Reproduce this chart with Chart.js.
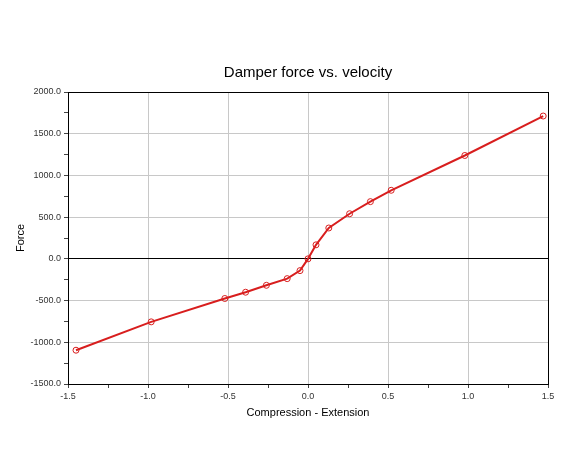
<!DOCTYPE html>
<html>
<head>
<meta charset="utf-8">
<script src="https://cdn.jsdelivr.net/npm/chart.js@4.4.0/dist/chart.umd.min.js"></script>
<style>
  html, body { margin: 0; padding: 0; background: #fff; }
  #wrap { width: 572px; height: 473px; }
</style>
</head>
<body>
<div id="wrap"><canvas id="damperChart" width="572" height="473"></canvas></div>
<script>
// Damper data
const velocity = [-1.45, -0.98, -0.52, -0.39, -0.26, -0.13, -0.05, 0.0, 0.05, 0.13, 0.26, 0.39, 0.52, 0.98, 1.47];
const force = [-1095, -755, -475, -400, -317, -237, -141, 0, 168, 370, 541, 686, 822, 1239, 1712];
const xRange = [-1.5, 1.5];
const yRange = [-1500, 2000];

const points = velocity.map((v, i) => ({ x: v, y: force[i] }));

// frame round the plot area
const boxPlugin = {
    id: 'box',
    afterDraw(chart) {
        const a = chart.chartArea;
        const ctx = chart.ctx;
        ctx.save();
        ctx.strokeStyle = '#000';
        ctx.lineWidth = 1;
        ctx.strokeRect(Math.round(a.left) + 0.5, Math.round(a.top) + 0.5,
            Math.round(a.right - a.left), Math.round(a.bottom - a.top));
        ctx.restore();
    }
};

const ctx = document.getElementById('damperChart').getContext('2d');
new Chart(ctx, {
    type: 'scatter',
    data: {
        datasets: [{
            data: points,
            showLine: true,
            borderColor: '#d81e1e',
            borderWidth: 2,
            pointRadius: 3,
            pointBorderWidth: 1,
            pointBorderColor: '#d81e1e',
            pointBackgroundColor: 'rgba(0,0,0,0)',
            tension: 0
        }]
    },
    options: {
        responsive: false,
        animation: false,
        layout: { padding: { left: 0, right: 24, top: 0, bottom: 53 } },
        plugins: {
            legend: { display: false },
            tooltip: { enabled: false },
            title: {
                display: true,
                text: 'Damper force vs. velocity',
                fullSize: false,
                color: '#000',
                font: { family: 'Liberation Sans, Arial, sans-serif', size: 15, weight: 'normal' },
                padding: { top: 64, bottom: 10 }
            }
        },
        scales: {
            x: {
                type: 'linear',
                min: xRange[0],
                max: xRange[1],
                ticks: {
                    stepSize: 0.25,
                    autoSkip: false,
                    maxRotation: 0,
                    color: '#333',
                    padding: 3,
                    font: { family: 'Liberation Sans, Arial, sans-serif', size: 9 },
                    callback: (v) => (Math.round(v * 100) % 50 === 0 ? v.toFixed(1) : '')
                },
                grid: {
                    color: (c) => (Math.round(c.tick.value * 100) % 50 === 0 ? '#c8c8c8' : 'rgba(0,0,0,0)'),
                    tickColor: '#444',
                    tickLength: 4
                },
                border: { color: '#000' },
                title: {
                    display: true,
                    text: 'Compression - Extension',
                    color: '#000',
                    font: { family: 'Liberation Sans, Arial, sans-serif', size: 11 },
                    padding: { top: 2, bottom: 0 }
                }
            },
            y: {
                type: 'linear',
                min: yRange[0],
                max: yRange[1],
                afterFit: (scale) => { scale.width = 68; },
                ticks: {
                    stepSize: 250,
                    autoSkip: false,
                    color: '#333',
                    padding: 3,
                    font: { family: 'Liberation Sans, Arial, sans-serif', size: 9 },
                    callback: (v) => (v % 500 === 0 ? v.toFixed(1) : '')
                },
                grid: {
                    color: (c) => {
                        const v = c.tick.value;
                        if (v === 0) return '#000';
                        return v % 500 === 0 ? '#c8c8c8' : 'rgba(0,0,0,0)';
                    },
                    tickColor: '#444',
                    tickLength: 4
                },
                border: { color: '#000' },
                title: {
                    display: true,
                    text: 'Force',
                    color: '#000',
                    font: { family: 'Liberation Sans, Arial, sans-serif', size: 11 },
                    padding: { top: 14, bottom: 0 }
                }
            }
        }
    },
    plugins: [boxPlugin]
});
</script>
</body>
</html>
